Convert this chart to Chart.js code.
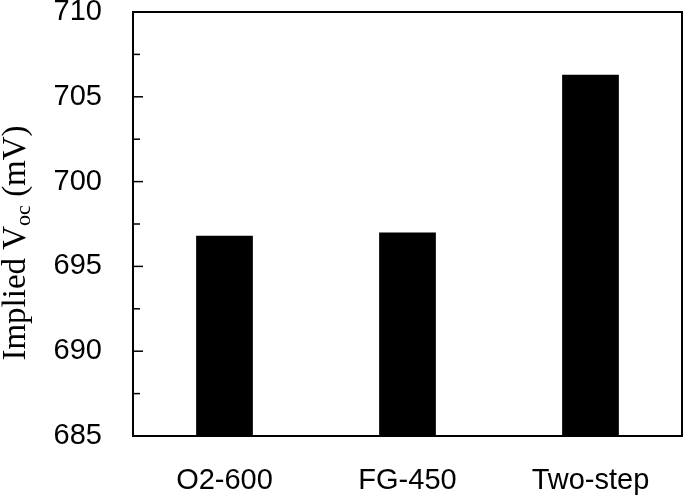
<!DOCTYPE html>
<html>
<head>
<meta charset="utf-8">
<script src="https://cdn.jsdelivr.net/npm/chart.js@4"></script>
<style>
  html, body { margin: 0; padding: 0; background: #fff; }
  #wrap { width: 685px; height: 495px; }
</style>
</head>
<body>
<div id="wrap"><canvas id="vocChart" width="685" height="495"></canvas></div>
<script>
// implied Voc po uzorku
const categories = ['O2-600', 'FG-450', 'Two-step'];
const impliedVoc = [696.8, 697.0, 706.3];
const yMin = 685;
const yMax = 710;
const majorStep = 5;
const minorStep = 2.5;

const sansFont = '"Liberation Sans", Arial, sans-serif';
const serifFont = '"Liberation Serif", "Times New Roman", serif';

// okvir + unutarnje crtice na y osi
const framePlugin = {
  id: 'frame',
  afterDraw(chart) {
    const { ctx, chartArea: a, scales: { y } } = chart;
    ctx.save();
    ctx.strokeStyle = '#000';
    ctx.lineWidth = 1.5;
    for (let v = yMin; v <= yMax + 1e-9; v += minorStep) {
      const py = y.getPixelForValue(v);
      const len = (Math.abs(v % majorStep) < 1e-9) ? 10 : 7;
      ctx.beginPath();
      ctx.moveTo(a.left, py);
      ctx.lineTo(a.left + len, py);
      ctx.stroke();
    }
    ctx.lineWidth = 2;
    ctx.strokeRect(a.left, a.top, a.right - a.left, a.bottom - a.top);
    ctx.restore();
  }
};

// naslov y osi sa subskriptom
const yTitlePlugin = {
  id: 'yTitle',
  afterDraw(chart) {
    const { ctx } = chart;
    const main = '33px ' + serifFont;
    const sub = '22px ' + serifFont;
    const parts = [
      { t: 'Implied V', f: main, dy: 0 },
      { t: 'oc', f: sub, dy: 5 },
      { t: ' (mV)', f: main, dy: 0 },
    ];
    let total = 0;
    parts.forEach(p => { ctx.font = p.f; p.w = ctx.measureText(p.t).width; total += p.w; });
    ctx.save();
    ctx.translate(25, 243);
    ctx.rotate(-Math.PI / 2);
    ctx.fillStyle = '#000';
    ctx.textBaseline = 'alphabetic';
    ctx.textAlign = 'left';
    let x = -total / 2;
    parts.forEach(p => {
      ctx.font = p.f;
      ctx.fillText(p.t, x, p.dy);
      x += p.w;
    });
    ctx.restore();
  }
};

new Chart(document.getElementById('vocChart').getContext('2d'), {
  type: 'bar',
  data: {
    labels: categories,
    datasets: [{
      label: 'Implied Voc',
      data: impliedVoc,
      backgroundColor: '#000',
      borderWidth: 0,
      barPercentage: 0.31,
      categoryPercentage: 1.0,
    }],
  },
  options: {
    responsive: false,
    animation: false,
    devicePixelRatio: 1,
    layout: { padding: { top: 12, right: 3, left: 0, bottom: 0 } },
    plugins: {
      legend: { display: false },
      tooltip: { enabled: false },
    },
    scales: {
      x: {
        grid: { display: false, drawTicks: false },
        border: { display: false },
        ticks: {
          color: '#000',
          padding: 28,
          maxRotation: 0,
          font: { family: sansFont, size: 29 },
        },
        afterFit: (s) => { s.height = 59; s.paddingLeft = 0; s.paddingRight = 0; },
      },
      y: {
        min: yMin,
        max: yMax,
        grid: { display: false, drawTicks: false },
        border: { display: false },
        ticks: {
          stepSize: minorStep,
          color: '#000',
          padding: 31,
          font: { family: sansFont, size: 29 },
          callback: (v) => (Math.abs(v % majorStep) < 1e-9 ? v : ''),
        },
        afterFit: (s) => { s.width = 133; s.paddingTop = 0; s.paddingBottom = 0; },
      },
    },
  },
  plugins: [framePlugin, yTitlePlugin],
});
</script>
</body>
</html>
